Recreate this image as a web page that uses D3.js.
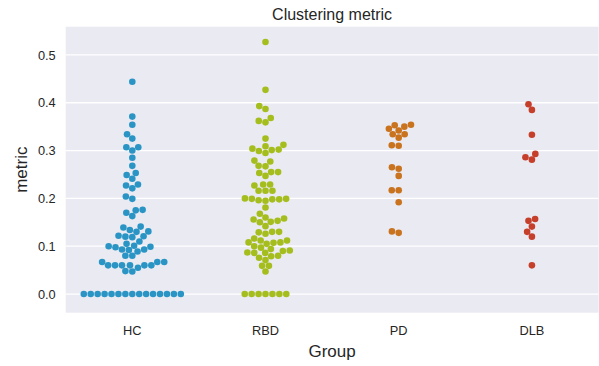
<!DOCTYPE html>
<html>
<head>
<meta charset="utf-8">
<script src="https://cdn.jsdelivr.net/npm/d3@7/dist/d3.min.js"></script>
<style>
  html, body { margin: 0; padding: 0; background: #ffffff; }
  svg { display: block; font-family: "Liberation Sans", Arial, sans-serif; }
</style>
</head>
<body>
<svg id="chart" width="599" height="366"></svg>
<script>
// Groups and the per-subject clustering metric values
const groups = ["HC", "RBD", "PD", "DLB"];
const groupColors = ["#2a95c5", "#a5be1e", "#c9731f", "#c53f2a"];

const hcValues = [
  0.444, 0.371, 0.354, 0.334, 0.325, 0.307, 0.307, 0.300, 0.285, 0.268,
  0.253, 0.249, 0.241, 0.229, 0.227, 0.221, 0.204, 0.199,
  0.176, 0.175, 0.170, 0.163,
  0.141, 0.139, 0.134, 0.131, 0.130, 0.122, 0.121, 0.120, 0.119, 0.110, 0.105,
  0.101, 0.100, 0.099, 0.098, 0.093, 0.093, 0.092, 0.089,
  0.080, 0.080,
  0.067, 0.067, 0.067,
  0.060, 0.060, 0.060, 0.060, 0.060, 0.060,
  0.055, 0.048, 0.047,
  0, 0, 0, 0, 0, 0, 0, 0, 0, 0, 0, 0, 0, 0, 0
];
const rbdValues = [
  0.527, 0.427, 0.393, 0.387, 0.368, 0.362, 0.359, 0.325,
  0.312, 0.309, 0.304, 0.302, 0.301, 0.299, 0.295,
  0.279, 0.277, 0.268, 0.267,
  0.255, 0.255, 0.253, 0.247,
  0.229, 0.229, 0.227,
  0.216, 0.216, 0.216,
  0.200, 0.199, 0.199, 0.198, 0.198, 0.196, 0.195,
  0.181, 0.168,
  0.160, 0.158, 0.156, 0.153, 0.151, 0.150, 0.142,
  0.130, 0.130, 0.129, 0.126,
  0.116, 0.112, 0.112, 0.108, 0.108, 0.107, 0.105, 0.100,
  0.097, 0.094, 0.091, 0.090, 0.087, 0.086, 0.086,
  0.080, 0.079, 0.076,
  0.071, 0.059, 0.059, 0.047,
  0, 0, 0, 0, 0, 0, 0
];
const pdValues = [
  0.354, 0.353, 0.350, 0.3455, 0.342, 0.334, 0.334, 0.327, 0.311, 0.310,
  0.265, 0.262, 0.247, 0.217, 0.217, 0.192, 0.131, 0.128
];
const dlbValues = [
  0.397, 0.385, 0.333, 0.293, 0.286, 0.281, 0.157, 0.153, 0.141, 0.130, 0.120, 0.060
];
const groupValues = [hcValues, rbdValues, pdValues, dlbValues];

const yTicks = [0.0, 0.1, 0.2, 0.3, 0.4, 0.5];
const yDomain = [-0.039, 0.559];

const plot = { left: 65.7, right: 598.5, top: 26.7, bottom: 312.7 };
const radius = 3.3;

const svg = d3.select("#chart");

const x = d3.scaleBand().domain(groups).range([plot.left, plot.right]).padding(0);
const y = d3.scaleLinear().domain(yDomain).range([plot.bottom, plot.top]);

// Plot background
svg.append("rect")
  .attr("x", plot.left).attr("y", plot.top)
  .attr("width", plot.right - plot.left).attr("height", plot.bottom - plot.top)
  .attr("fill", "#eaeaf2");

// Horizontal grid lines + y tick labels
const yAxis = d3.axisLeft(y).tickValues(yTicks).tickFormat(d3.format(".1f"))
  .tickSize(0).tickPadding(10);
const gy = svg.append("g").attr("transform", `translate(${plot.left},0)`).call(yAxis);
gy.select(".domain").remove();
gy.selectAll("text").attr("fill", "#262626").style("font-size", "12.8px");

svg.append("g").selectAll("line").data(yTicks).join("line")
  .attr("x1", plot.left).attr("x2", plot.right)
  .attr("y1", d => y(d)).attr("y2", d => y(d))
  .attr("stroke", "#ffffff").attr("stroke-width", 1.3);

// x tick labels
const xAxis = d3.axisBottom(x).tickSize(0).tickPadding(13);
const gx = svg.append("g").attr("transform", `translate(0,${plot.bottom})`).call(xAxis);
gx.select(".domain").remove();
gx.selectAll("text").attr("fill", "#262626").style("font-size", "12.8px");

// Beeswarm placement: points sorted by value, each put at the candidate
// offset closest to the category midline that avoids overlap.
function swarm(values, r) {
  const d = 2 * r;
  const pts = values.map(v => ({ v, py: y(v) }))
    .sort((a, b) => b.py - a.py);
  const placed = [];
  for (const p of pts) {
    const neighbors = placed.filter(q => Math.abs(q.py - p.py) < d);
    const cands = [0];
    for (const q of neighbors) {
      const dy = p.py - q.py;
      const dx = Math.sqrt(Math.max(d * d - dy * dy, 0)) * 1.05;
      cands.push(q.off - dx, q.off + dx);
    }
    const order = cands.map((c, i) => ({ c, i }))
      .sort((a, b) => (Math.abs(a.c) - Math.abs(b.c)) || (a.i - b.i));
    let chosen = 0;
    for (const { c } of order) {
      const ok = neighbors.every(q => {
        const dx = c - q.off, dy = p.py - q.py;
        return dx * dx + dy * dy >= d * d - 1e-6;
      });
      if (ok) { chosen = c; break; }
    }
    p.off = chosen;
    placed.push(p);
  }
  return placed;
}

groups.forEach((g, i) => {
  const cx = x(g) + x.bandwidth() / 2;
  const pts = swarm(groupValues[i], radius);
  svg.append("g").selectAll("circle").data(pts).join("circle")
    .attr("cx", p => cx + p.off)
    .attr("cy", p => p.py)
    .attr("r", radius)
    .attr("fill", groupColors[i]);
});

// Title and axis labels
svg.append("text")
  .attr("x", (plot.left + plot.right) / 2).attr("y", 20)
  .attr("text-anchor", "middle").attr("fill", "#262626")
  .style("font-size", "16px")
  .text("Clustering metric");

svg.append("text")
  .attr("x", (plot.left + plot.right) / 2).attr("y", 357)
  .attr("text-anchor", "middle").attr("fill", "#262626")
  .style("font-size", "17px")
  .text("Group");

svg.append("text")
  .attr("transform", `translate(27,${(plot.top + plot.bottom) / 2}) rotate(-90)`)
  .attr("text-anchor", "middle").attr("fill", "#262626")
  .style("font-size", "17px")
  .text("metric");
</script>
</body>
</html>
